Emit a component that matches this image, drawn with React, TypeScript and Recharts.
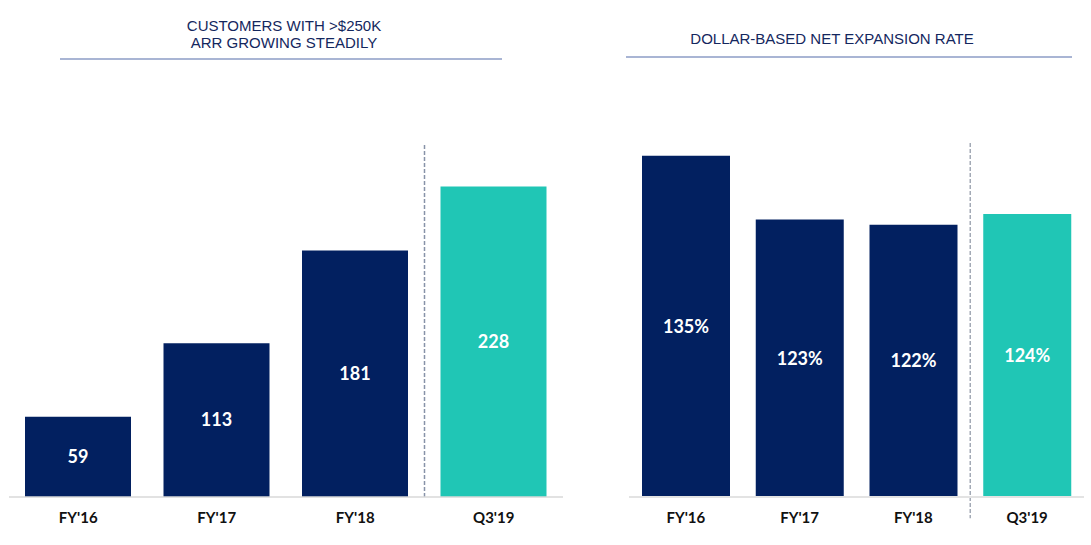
import { BarChart, Bar, XAxis, YAxis, Cell, LabelList, ReferenceLine } from 'recharts'

const categories = ["FY'16", "FY'17", "FY'18", "Q3'19"]
const customers = [59, 113, 181, 228]
const expansionRate = [135, 123, 122, 124]

const NAVY = '#022060'
const TEAL = '#20c6b5'
const TITLE = '#14275e'

const customerData = categories.map((name, i) => ({ name, value: customers[i] }))
const expansionData = categories.map((name, i) => ({ name, value: expansionRate[i] }))

const tickStyle = { fill: '#111', fontSize: 15, fontWeight: 700, fontFamily: 'Lato' }
const labelStyle = { fill: '#fff', fontSize: 18, fontWeight: 700, fontFamily: 'Lato' }

function Title({ lines, center, top }: { lines: string[]; center: number; top: number }) {
  return (
    <div
      style={{
        position: 'absolute', left: center - 200, width: 400, top, textAlign: 'center',
        fontFamily: '"Liberation Sans", Arial, sans-serif', fontSize: 15, lineHeight: '17px', color: TITLE,
      }}
    >
      {lines.map((l) => <div key={l}>{l}</div>)}
    </div>
  )
}

function Rule({ x1, x2, y }: { x1: number; x2: number; y: number }) {
  return <div style={{ position: 'absolute', left: x1, width: x2 - x1, top: y, height: 2, background: '#a9b5d4' }} />
}

export default function App() {
  return (
    <div style={{ position: 'absolute', left: 0, top: 0, width: 1091, height: 545, background: '#fff', overflow: 'hidden' }}>
      <Title lines={['CUSTOMERS WITH >$250K', 'ARR GROWING STEADILY']} center={284} top={17} />
      <Rule x1={60} x2={502} y={58} />
      <Title lines={['DOLLAR-BASED NET EXPANSION RATE']} center={832} top={30} />
      <Rule x1={626} x2={1072} y={56} />

      <div style={{ position: 'absolute', left: 0, top: 0 }}>
        <BarChart width={570} height={545} data={customerData} margin={{ top: 143, right: 7, left: 9, bottom: 0 }}>
          <XAxis dataKey="name" height={48} axisLine={{ stroke: '#d9d9d9', strokeWidth: 1.5 }} tickLine={false}
            tickMargin={9} tick={tickStyle} interval={0} />
          <YAxis hide domain={[0, 260]} />
          <ReferenceLine x="Q3'19" position="start" stroke="#8792a8" strokeWidth={1.5} strokeDasharray="4 2" />
          <Bar dataKey="value" barSize={106} isAnimationActive={false}>
            {customerData.map((d, i) => <Cell key={d.name} fill={i === 3 ? TEAL : NAVY} />)}
            <LabelList dataKey="value" position="center" style={labelStyle} />
          </Bar>
        </BarChart>
      </div>

      <div style={{ position: 'absolute', left: 600, top: 0 }}>
        <BarChart width={491} height={545} data={expansionData} margin={{ top: 143, right: 7, left: 29, bottom: 0 }}>
          <XAxis dataKey="name" height={48} axisLine={{ stroke: '#e3e3e3', strokeWidth: 2 }} tickLine={false}
            tickMargin={9} tick={tickStyle} interval={0} />
          <YAxis hide domain={[70.7, 137.4]} />
          <ReferenceLine
            segment={[{ x: "Q3'19", y: 137.4 }, { x: "Q3'19", y: 66.7 }]}
            position="start" ifOverflow="visible"
            stroke="#a3aab6" strokeWidth={1.5} strokeDasharray="4 2"
          />
          <Bar dataKey="value" barSize={88} isAnimationActive={false}>
            {expansionData.map((d, i) => <Cell key={d.name} fill={i === 3 ? TEAL : NAVY} />)}
            <LabelList dataKey="value" position="center" style={labelStyle} formatter={(v: number) => `${v}%`} />
          </Bar>
        </BarChart>
      </div>
    </div>
  )
}
